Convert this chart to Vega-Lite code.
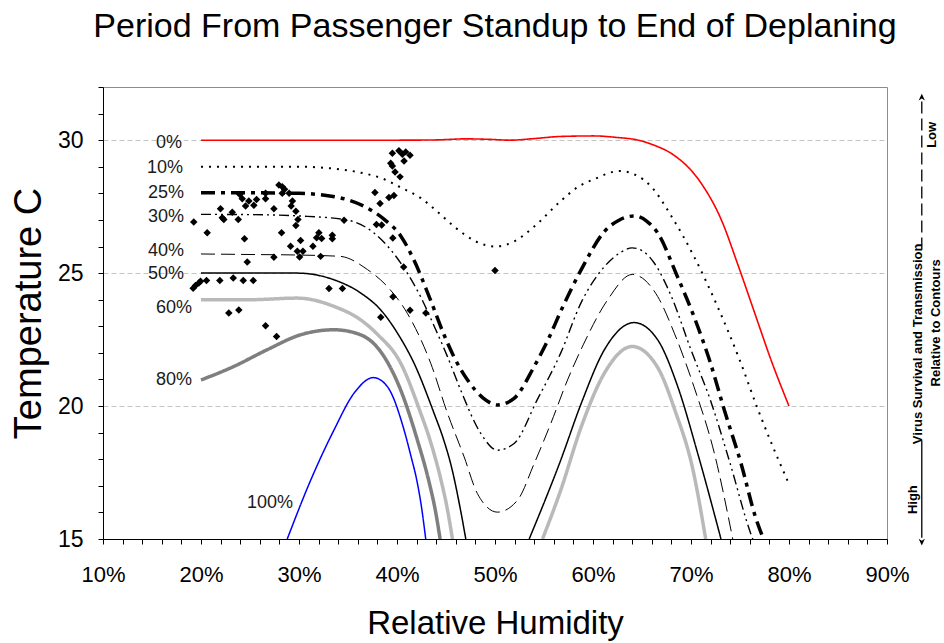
{
  "$schema": "https://vega.github.io/schema/vega-lite/v6.json",
  "width": 784,
  "height": 452,
  "autosize": {"type": "none"},
  "padding": {"left": 103, "top": 87, "right": 57, "bottom": 104},
  "background": "white",
  "config": {
    "font": "Liberation Sans",
    "view": {"stroke": "#8c8c8c", "strokeWidth": 1}
  },
  "title": {
    "text": "Period From Passenger Standup to End of Deplaning",
    "fontSize": 34,
    "font": "Liberation Sans",
    "fontWeight": "normal",
    "color": "black",
    "anchor": "middle",
    "offset": 32
  },
  "datasets": {
    "contours": [
      {"c": "0%", "rh": 20, "t": 30}, {"c": "0%", "rh": 25, "t": 30}, {"c": "0%", "rh": 30, "t": 30}, {"c": "0%", "rh": 35, "t": 30}, {"c": "0%", "rh": 40, "t": 30}, {"c": "0%", "rh": 44, "t": 30.01}, {"c": "0%", "rh": 47, "t": 30.05}, {"c": "0%", "rh": 49.5, "t": 30.03}, {"c": "0%", "rh": 51.5, "t": 30.0}, {"c": "0%", "rh": 54, "t": 30.06}, {"c": "0%", "rh": 56.7, "t": 30.14}, {"c": "0%", "rh": 60.1, "t": 30.16}, {"c": "0%", "rh": 62.5, "t": 30.1}, {"c": "0%", "rh": 64.5, "t": 30.01}, {"c": "0%", "rh": 66.3, "t": 29.8}, {"c": "0%", "rh": 68, "t": 29.5}, {"c": "0%", "rh": 71, "t": 28.4}, {"c": "0%", "rh": 73.1, "t": 27.0}, {"c": "0%", "rh": 74.8, "t": 25.3}, {"c": "0%", "rh": 76.5, "t": 23.5}, {"c": "0%", "rh": 78.2, "t": 21.7}, {"c": "0%", "rh": 80, "t": 20.0},
      {"c": "10%", "rh": 20, "t": 29}, {"c": "10%", "rh": 25, "t": 29}, {"c": "10%", "rh": 30, "t": 29}, {"c": "10%", "rh": 33, "t": 28.95}, {"c": "10%", "rh": 36, "t": 28.8}, {"c": "10%", "rh": 38.7, "t": 28.53}, {"c": "10%", "rh": 40.5, "t": 28.2}, {"c": "10%", "rh": 42.4, "t": 27.83}, {"c": "10%", "rh": 44, "t": 27.35}, {"c": "10%", "rh": 46, "t": 26.7}, {"c": "10%", "rh": 48, "t": 26.2}, {"c": "10%", "rh": 50, "t": 26.0}, {"c": "10%", "rh": 52, "t": 26.2}, {"c": "10%", "rh": 54, "t": 26.75}, {"c": "10%", "rh": 56.7, "t": 27.71}, {"c": "10%", "rh": 58.5, "t": 28.25}, {"c": "10%", "rh": 60.1, "t": 28.53}, {"c": "10%", "rh": 62.7, "t": 28.84}, {"c": "10%", "rh": 64.3, "t": 28.7}, {"c": "10%", "rh": 65.9, "t": 28.27}, {"c": "10%", "rh": 68, "t": 27.14}, {"c": "10%", "rh": 70.3, "t": 25.63}, {"c": "10%", "rh": 72.7, "t": 23.75}, {"c": "10%", "rh": 75, "t": 21.7}, {"c": "10%", "rh": 76.8, "t": 19.9}, {"c": "10%", "rh": 78.1, "t": 18.7}, {"c": "10%", "rh": 79.9, "t": 17.15},
      {"c": "25%", "rh": 20, "t": 28.02}, {"c": "25%", "rh": 25, "t": 28.02}, {"c": "25%", "rh": 30, "t": 28.0}, {"c": "25%", "rh": 34.2, "t": 27.83}, {"c": "25%", "rh": 36.6, "t": 27.52}, {"c": "25%", "rh": 38.7, "t": 27.02}, {"c": "25%", "rh": 40.4, "t": 26.39}, {"c": "25%", "rh": 41.7, "t": 25.51}, {"c": "25%", "rh": 43.3, "t": 24.1}, {"c": "25%", "rh": 44.8, "t": 22.68}, {"c": "25%", "rh": 45.8, "t": 21.86}, {"c": "25%", "rh": 47.2, "t": 20.98}, {"c": "25%", "rh": 48.8, "t": 20.3}, {"c": "25%", "rh": 50.25, "t": 20.04}, {"c": "25%", "rh": 51.95, "t": 20.29}, {"c": "25%", "rh": 54, "t": 21.49}, {"c": "25%", "rh": 55.5, "t": 22.56}, {"c": "25%", "rh": 56.7, "t": 23.56}, {"c": "25%", "rh": 58.8, "t": 25.13}, {"c": "25%", "rh": 61.2, "t": 26.58}, {"c": "25%", "rh": 62.7, "t": 27.0}, {"c": "25%", "rh": 64.2, "t": 27.15}, {"c": "25%", "rh": 65.5, "t": 26.95}, {"c": "25%", "rh": 66.6, "t": 26.51}, {"c": "25%", "rh": 68.6, "t": 24.88}, {"c": "25%", "rh": 70.3, "t": 23.37}, {"c": "25%", "rh": 72, "t": 21.6}, {"c": "25%", "rh": 73.4, "t": 19.85}, {"c": "25%", "rh": 75.1, "t": 17.85}, {"c": "25%", "rh": 76.6, "t": 15.8}, {"c": "25%", "rh": 77.4, "t": 15.0},
      {"c": "30%", "rh": 20, "t": 27.21}, {"c": "30%", "rh": 25, "t": 27.2}, {"c": "30%", "rh": 30, "t": 27.15}, {"c": "30%", "rh": 34.6, "t": 27.02}, {"c": "30%", "rh": 37.65, "t": 26.51}, {"c": "30%", "rh": 39.35, "t": 25.88}, {"c": "30%", "rh": 41.05, "t": 25.0}, {"c": "30%", "rh": 42.4, "t": 24.12}, {"c": "30%", "rh": 43.8, "t": 23.0}, {"c": "30%", "rh": 45.15, "t": 21.86}, {"c": "30%", "rh": 46.5, "t": 20.6}, {"c": "30%", "rh": 48.55, "t": 18.97}, {"c": "30%", "rh": 50.25, "t": 18.34}, {"c": "30%", "rh": 51.95, "t": 18.59}, {"c": "30%", "rh": 54.3, "t": 20.23}, {"c": "30%", "rh": 56.7, "t": 21.99}, {"c": "30%", "rh": 58.8, "t": 23.9}, {"c": "30%", "rh": 61.2, "t": 25.26}, {"c": "30%", "rh": 62.7, "t": 25.75}, {"c": "30%", "rh": 64.0, "t": 25.95}, {"c": "30%", "rh": 65.2, "t": 25.8}, {"c": "30%", "rh": 66.25, "t": 25.38}, {"c": "30%", "rh": 68, "t": 24.12}, {"c": "30%", "rh": 70, "t": 22.11}, {"c": "30%", "rh": 72, "t": 20.2}, {"c": "30%", "rh": 73.9, "t": 17.96}, {"c": "30%", "rh": 76.1, "t": 15.2}, {"c": "30%", "rh": 76.3, "t": 15.0},
      {"c": "40%", "rh": 20, "t": 25.72}, {"c": "40%", "rh": 25, "t": 25.7}, {"c": "40%", "rh": 30, "t": 25.68}, {"c": "40%", "rh": 34.2, "t": 25.63}, {"c": "40%", "rh": 37, "t": 25.13}, {"c": "40%", "rh": 39, "t": 24.5}, {"c": "40%", "rh": 41.05, "t": 23.49}, {"c": "40%", "rh": 43.44, "t": 21.61}, {"c": "40%", "rh": 45.15, "t": 19.73}, {"c": "40%", "rh": 46.85, "t": 18.09}, {"c": "40%", "rh": 48.2, "t": 16.71}, {"c": "40%", "rh": 50.25, "t": 16.01}, {"c": "40%", "rh": 52.3, "t": 16.46}, {"c": "40%", "rh": 54, "t": 17.84}, {"c": "40%", "rh": 55.7, "t": 19.35}, {"c": "40%", "rh": 57.4, "t": 20.98}, {"c": "40%", "rh": 59, "t": 22.3}, {"c": "40%", "rh": 61.5, "t": 24.0}, {"c": "40%", "rh": 64, "t": 24.95}, {"c": "40%", "rh": 66.6, "t": 24.12}, {"c": "40%", "rh": 68.3, "t": 22.74}, {"c": "40%", "rh": 70.3, "t": 20.73}, {"c": "40%", "rh": 72.4, "t": 18.2}, {"c": "40%", "rh": 74.26, "t": 15.0},
      {"c": "50%", "rh": 20, "t": 25.0}, {"c": "50%", "rh": 25, "t": 25.0}, {"c": "50%", "rh": 29.8, "t": 25.0}, {"c": "50%", "rh": 33.56, "t": 24.75}, {"c": "50%", "rh": 36.3, "t": 24.25}, {"c": "50%", "rh": 38.33, "t": 23.62}, {"c": "50%", "rh": 40.2, "t": 22.65}, {"c": "50%", "rh": 41.74, "t": 21.61}, {"c": "50%", "rh": 43.78, "t": 19.73}, {"c": "50%", "rh": 44.7, "t": 18.8}, {"c": "50%", "rh": 45.6, "t": 17.65}, {"c": "50%", "rh": 46.4, "t": 16.25}, {"c": "50%", "rh": 47.02, "t": 15.0},
      {"c": "50%b", "rh": 53.49, "t": 15.0}, {"c": "50%b", "rh": 56.7, "t": 17.96}, {"c": "50%b", "rh": 58.8, "t": 20.1}, {"c": "50%b", "rh": 61.15, "t": 22.11}, {"c": "50%b", "rh": 64.2, "t": 23.14}, {"c": "50%b", "rh": 66.6, "t": 22.49}, {"c": "50%b", "rh": 68.65, "t": 20.73}, {"c": "50%b", "rh": 70.7, "t": 18.2}, {"c": "50%b", "rh": 73.06, "t": 15.0},
      {"c": "60%", "rh": 20, "t": 24.0}, {"c": "60%", "rh": 25, "t": 24.0}, {"c": "60%", "rh": 29.8, "t": 24.06}, {"c": "60%", "rh": 33.56, "t": 23.75}, {"c": "60%", "rh": 36.3, "t": 23.24}, {"c": "60%", "rh": 38.0, "t": 22.7}, {"c": "60%", "rh": 40.38, "t": 21.61}, {"c": "60%", "rh": 42.42, "t": 19.73}, {"c": "60%", "rh": 43.3, "t": 18.8}, {"c": "60%", "rh": 44.5, "t": 17.2}, {"c": "60%", "rh": 45.1, "t": 16.2}, {"c": "60%", "rh": 45.66, "t": 15.0},
      {"c": "60%b", "rh": 54.85, "t": 15.0}, {"c": "60%b", "rh": 56.7, "t": 16.83}, {"c": "60%b", "rh": 58.8, "t": 19.22}, {"c": "60%b", "rh": 61.15, "t": 21.23}, {"c": "60%b", "rh": 64.0, "t": 22.24}, {"c": "60%b", "rh": 66.6, "t": 21.45}, {"c": "60%b", "rh": 68.4, "t": 19.8}, {"c": "60%b", "rh": 70.2, "t": 17.6}, {"c": "60%b", "rh": 71.5, "t": 15.0},
      {"c": "80%", "rh": 20, "t": 20.98}, {"c": "80%", "rh": 23.35, "t": 21.49}, {"c": "80%", "rh": 26.76, "t": 22.12}, {"c": "80%", "rh": 30.16, "t": 22.68}, {"c": "80%", "rh": 33.57, "t": 22.87}, {"c": "80%", "rh": 36.29, "t": 22.68}, {"c": "80%", "rh": 38.68, "t": 21.86}, {"c": "80%", "rh": 40.38, "t": 20.6}, {"c": "80%", "rh": 42.08, "t": 18.72}, {"c": "80%", "rh": 43.3, "t": 17.1}, {"c": "80%", "rh": 43.9, "t": 16.1}, {"c": "80%", "rh": 44.4, "t": 15.0},
      {"c": "100%", "rh": 28.8, "t": 15.0}, {"c": "100%", "rh": 31.19, "t": 17.21}, {"c": "100%", "rh": 33.57, "t": 19.1}, {"c": "100%", "rh": 35.61, "t": 20.48}, {"c": "100%", "rh": 37.59, "t": 21.07}, {"c": "100%", "rh": 39.02, "t": 20.73}, {"c": "100%", "rh": 40.72, "t": 19.1}, {"c": "100%", "rh": 41.4, "t": 18.15}, {"c": "100%", "rh": 42.08, "t": 17.1}, {"c": "100%", "rh": 42.5, "t": 16.2}, {"c": "100%", "rh": 42.93, "t": 15.0}
    ],
    "obs": [
      {"rh": 19.26, "t": 26.92}, {"rh": 20.63, "t": 26.52}, {"rh": 19.20, "t": 24.43}, {"rh": 19.44, "t": 24.53}, {"rh": 19.78, "t": 24.63}, {"rh": 19.95, "t": 24.69}, {"rh": 20.56, "t": 24.72}, {"rh": 21.92, "t": 24.72}, {"rh": 23.29, "t": 24.82}, {"rh": 24.31, "t": 24.72},
      {"rh": 25.33, "t": 24.72}, {"rh": 22.84, "t": 23.50}, {"rh": 23.86, "t": 23.61}, {"rh": 26.59, "t": 23.02}, {"rh": 27.71, "t": 22.62}, {"rh": 21.99, "t": 27.42}, {"rh": 22.17, "t": 27.08}, {"rh": 22.33, "t": 27.02}, {"rh": 23.19, "t": 27.29}, {"rh": 23.80, "t": 27.02},
      {"rh": 23.96, "t": 27.96}, {"rh": 24.21, "t": 27.80}, {"rh": 24.44, "t": 26.29}, {"rh": 24.55, "t": 27.52}, {"rh": 24.88, "t": 27.71}, {"rh": 25.39, "t": 27.55}, {"rh": 25.67, "t": 27.77}, {"rh": 26.59, "t": 28.00}, {"rh": 26.59, "t": 27.80}, {"rh": 27.44, "t": 27.42},
      {"rh": 27.95, "t": 28.31}, {"rh": 28.29, "t": 28.25}, {"rh": 28.53, "t": 28.15}, {"rh": 28.29, "t": 28.00}, {"rh": 28.22, "t": 26.52}, {"rh": 24.72, "t": 25.42}, {"rh": 27.44, "t": 25.60}, {"rh": 28.99, "t": 28.00}, {"rh": 29.33, "t": 27.71}, {"rh": 29.20, "t": 27.52},
      {"rh": 29.68, "t": 27.33}, {"rh": 29.89, "t": 27.02}, {"rh": 29.68, "t": 26.79}, {"rh": 30.16, "t": 26.23}, {"rh": 29.14, "t": 26.01}, {"rh": 29.83, "t": 25.82}, {"rh": 30.40, "t": 25.82}, {"rh": 30.06, "t": 25.61}, {"rh": 31.42, "t": 26.01}, {"rh": 32.03, "t": 26.52},
      {"rh": 31.80, "t": 26.33}, {"rh": 32.31, "t": 26.30}, {"rh": 33.40, "t": 26.42}, {"rh": 33.40, "t": 26.29}, {"rh": 32.21, "t": 25.63}, {"rh": 33.06, "t": 24.42}, {"rh": 34.43, "t": 24.42}, {"rh": 34.60, "t": 26.99}, {"rh": 37.75, "t": 28.03}, {"rh": 38.27, "t": 27.62},
      {"rh": 39.18, "t": 27.84}, {"rh": 39.69, "t": 27.92}, {"rh": 37.90, "t": 26.83}, {"rh": 38.44, "t": 26.81}, {"rh": 39.57, "t": 26.32}, {"rh": 40.68, "t": 25.23}, {"rh": 39.59, "t": 24.11}, {"rh": 41.33, "t": 23.60}, {"rh": 42.94, "t": 23.50}, {"rh": 38.34, "t": 23.34},
      {"rh": 39.36, "t": 29.13}, {"rh": 39.53, "t": 29.03}, {"rh": 39.80, "t": 28.80}, {"rh": 40.31, "t": 28.62}, {"rh": 39.53, "t": 29.51}, {"rh": 40.20, "t": 29.60}, {"rh": 40.55, "t": 29.47}, {"rh": 40.89, "t": 29.56}, {"rh": 41.33, "t": 29.43}, {"rh": 40.72, "t": 29.22},
      {"rh": 50.00, "t": 25.10}
    ],
    "labels": [
      {"rh": 18.06, "t": 29.9, "lab": "0%"},
      {"rh": 18.17, "t": 28.96, "lab": "10%"},
      {"rh": 18.27, "t": 28.02, "lab": "25%"},
      {"rh": 18.27, "t": 27.12, "lab": "30%"},
      {"rh": 18.27, "t": 25.84, "lab": "40%"},
      {"rh": 18.27, "t": 24.97, "lab": "50%"},
      {"rh": 19.09, "t": 23.69, "lab": "60%"},
      {"rh": 19.09, "t": 20.99, "lab": "80%"},
      {"rh": 29.39, "t": 16.35, "lab": "100%"}
    ],
    "notes": [
      {"rh": 93.15, "t": 22.34, "txt": "Virus Survival and Transmission"},
      {"rh": 95.0, "t": 23.13, "txt": "Relative to Contours"},
      {"rh": 92.63, "t": 16.48, "txt": "High"},
      {"rh": 94.6, "t": 30.2, "txt": "Low"}
    ],
    "arrowTop": [{"rh": 93.55, "t": 31.45, "t2": 25.75}],
    "arrowBottom": [{"rh": 93.55, "t": 18.7, "t2": 15.05}],
    "headUp": [{"rh": 93.55, "t": 31.55}],
    "headDown": [{"rh": 93.55, "t": 14.95}]
  },
  "encoding": {
    "x": {
      "field": "rh",
      "type": "quantitative",
      "scale": {"domain": [10, 90], "nice": false, "zero": false},
      "axis": {
        "title": "Relative Humidity",
        "values": [10, 12, 14, 16, 18, 20, 22, 24, 26, 28, 30, 32, 34, 36, 38, 40, 42, 44, 46, 48, 50, 52, 54, 56, 58, 60, 62, 64, 66, 68, 70, 72, 74, 76, 78, 80, 82, 84, 86, 88, 90],
        "labelExpr": "datum.value % 10 === 0 ? datum.value + '%' : ''",
        "grid": false,
        "tickSize": 5,
        "tickColor": "black",
        "domainColor": "black",
        "labelFontSize": 22,
        "labelColor": "black",
        "labelFont": "Liberation Sans",
        "labelPadding": 20,
        "labelFlush": false,
        "labelOverlap": false,
        "titleFontSize": 33,
        "titleFont": "Liberation Sans",
        "titleFontWeight": "normal",
        "titleColor": "black",
        "titlePadding": 22
      }
    },
    "y": {
      "field": "t",
      "type": "quantitative",
      "scale": {"domain": [15, 32], "nice": false, "zero": false},
      "axis": {
        "title": "Temperature C",
        "values": [15, 16, 17, 18, 19, 20, 21, 22, 23, 24, 25, 26, 27, 28, 29, 30, 31, 32],
        "labelExpr": "datum.value % 5 === 0 ? datum.label : ''",
        "grid": true,
        "gridColor": "#c4c4c4",
        "gridDash": [5, 3],
        "gridWidth": 1,
        "gridOpacity": {"condition": {"test": "datum.value % 5 === 0 && datum.value > 15", "value": 1}, "value": 0},
        "tickSize": 5,
        "tickColor": "black",
        "domainColor": "black",
        "labelFontSize": 23,
        "labelColor": "black",
        "labelFont": "Liberation Sans",
        "labelPadding": 15,
        "labelOverlap": false,
        "titleFontSize": 38,
        "titleFont": "Liberation Sans",
        "titleFontWeight": "normal",
        "titleColor": "black",
        "titlePadding": 9
      }
    }
  },
  "layer": [
    {
      "data": {"name": "contours"},
      "mark": {"type": "line", "interpolate": "monotone", "clip": true},
      "encoding": {
        "detail": {"field": "c", "type": "nominal"},
        "color": {
          "field": "c", "type": "nominal", "legend": null,
          "scale": {
            "domain": ["0%", "10%", "25%", "30%", "40%", "50%", "50%b", "60%", "60%b", "80%", "100%"],
            "range": ["#ff0000", "#000000", "#000000", "#000000", "#000000", "#000000", "#000000", "#b9b9b9", "#b9b9b9", "#7f7f7f", "#0000ff"]
          }
        },
        "strokeDash": {
          "field": "c", "type": "nominal", "legend": null,
          "scale": {
            "domain": ["0%", "10%", "25%", "30%", "40%", "50%", "50%b", "60%", "60%b", "80%", "100%"],
            "range": [[1, 0], [2, 6], [14, 6, 4, 6], [10, 4, 2, 4, 2, 4], [14, 6], [1, 0], [1, 0], [1, 0], [1, 0], [1, 0], [1, 0]]
          }
        },
        "strokeWidth": {
          "field": "c", "type": "nominal", "legend": null,
          "scale": {
            "type": "ordinal",
            "domain": ["0%", "10%", "25%", "30%", "40%", "50%", "50%b", "60%", "60%b", "80%", "100%"],
            "range": [1.6, 2, 3.5, 1.4, 1, 1.5, 1.5, 3.5, 3.5, 3.5, 1.5]
          }
        }
      }
    },
    {
      "data": {"name": "obs"},
      "mark": {"type": "point", "shape": "diamond", "filled": true, "color": "black", "size": 56, "opacity": 1}
    },
    {
      "data": {"name": "labels"},
      "mark": {"type": "text", "align": "right", "baseline": "middle", "fontSize": 18, "font": "Liberation Sans", "color": "#1a1a1a"},
      "encoding": {"text": {"field": "lab", "type": "nominal"}}
    },
    {
      "data": {"name": "notes"},
      "mark": {"type": "text", "align": "center", "baseline": "middle", "angle": 270, "fontSize": 13, "fontWeight": "bold", "font": "Liberation Sans", "color": "black"},
      "encoding": {"text": {"field": "txt", "type": "nominal"}}
    },
    {
      "data": {"name": "arrowTop"},
      "mark": {"type": "rule", "color": "black", "strokeWidth": 1.3, "strokeDash": [12, 5]},
      "encoding": {"y2": {"field": "t2"}}
    },
    {
      "data": {"name": "arrowBottom"},
      "mark": {"type": "rule", "color": "black", "strokeWidth": 1.3},
      "encoding": {"y2": {"field": "t2"}}
    },
    {
      "data": {"name": "headUp"},
      "mark": {"type": "point", "shape": "M0,-1L-0.6,0.3L0,-0.1L0.6,0.3Z", "filled": true, "color": "black", "size": 110, "opacity": 1}
    },
    {
      "data": {"name": "headDown"},
      "mark": {"type": "point", "shape": "M0,1L-0.6,-0.3L0,0.1L0.6,-0.3Z", "filled": true, "color": "black", "size": 110, "opacity": 1}
    }
  ]
}
